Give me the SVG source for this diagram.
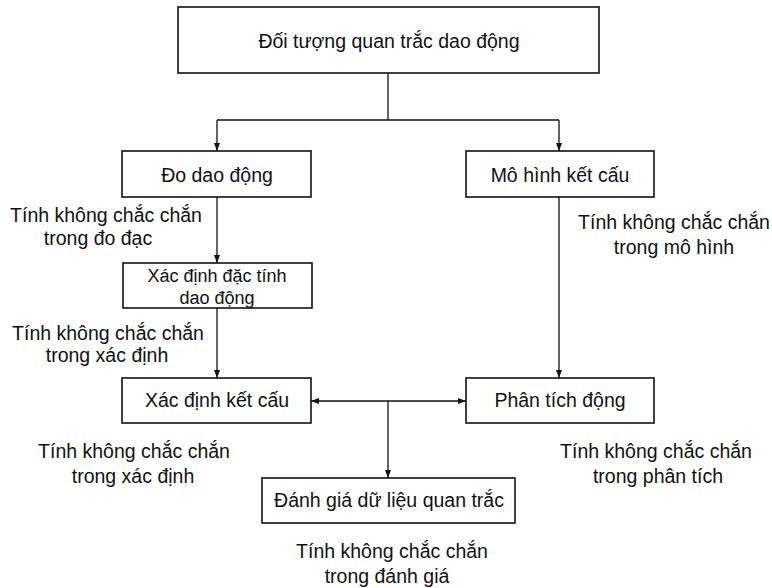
<svg xmlns="http://www.w3.org/2000/svg" width="772" height="588" viewBox="0 0 772 588">
<style>
.box{fill:#fff;stroke:#111;stroke-width:1.6}
.t{font-family:"Liberation Sans",Arial,sans-serif;font-size:19.5px;fill:#111;text-anchor:middle}
.s{font-size:18px}
.c{fill:none;stroke:#111;stroke-width:1.3}
</style>
<defs>
<marker id="ah" viewBox="0 0 8 6" refX="8" refY="3" markerWidth="8" markerHeight="6" markerUnits="userSpaceOnUse" orient="auto">
<path d="M0,0 L8,3 L0,6 Z" fill="#111"/>
</marker>
</defs>
<rect width="772" height="588" fill="#fff"/>
<g id="connectors">
<path class="c" d="M388,73 V120"/>
<path class="c" d="M217,120 H559"/>
<path class="c" d="M217,120 V151" marker-end="url(#ah)"/>
<path class="c" d="M559,120 V151" marker-end="url(#ah)"/>
<path class="c" d="M217,197 V263" marker-end="url(#ah)"/>
<path class="c" d="M217,308 V378" marker-end="url(#ah)"/>
<path class="c" d="M559,197 V378" marker-end="url(#ah)"/>
<path class="c" d="M388,401 H311" marker-end="url(#ah)"/>
<path class="c" d="M388,401 H466" marker-end="url(#ah)"/>
<path class="c" d="M388,401 V478" marker-end="url(#ah)"/>
</g>
<g id="n-doi-tuong">
<rect class="box" x="178" y="7" width="421" height="66"/>
<text class="t" x="389" y="48">Đối tượng quan trắc dao động</text>
</g>
<g id="n-do-dao-dong">
<rect class="box" x="122" y="151" width="189" height="46"/>
<text class="t" x="217" y="182">Đo dao động</text>
</g>
<g id="n-mo-hinh">
<rect class="box" x="466" y="151" width="188" height="46"/>
<text class="t" x="560" y="182">Mô hình kết cấu</text>
</g>
<g id="n-xac-dinh-dac-tinh">
<rect class="box" x="123" y="263" width="189" height="45"/>
<text class="t s" x="217" y="282">Xác định đặc tính</text>
<text class="t s" x="217" y="304">dao động</text>
</g>
<g id="n-xac-dinh-ket-cau">
<rect class="box" x="122" y="378" width="189" height="45"/>
<text class="t" x="217" y="407">Xác định kết cấu</text>
</g>
<g id="n-phan-tich">
<rect class="box" x="466" y="378" width="188" height="45"/>
<text class="t" x="560" y="407">Phân tích động</text>
</g>
<g id="n-danh-gia">
<rect class="box" x="262" y="478" width="253" height="45"/>
<text class="t" x="389" y="507">Đánh giá dữ liệu quan trắc</text>
</g>
<g id="labels">
<text class="t" x="106" y="222">Tính không chắc chắn</text>
<text class="t" x="98" y="245">trong đo đạc</text>
<text class="t" x="674" y="229">Tính không chắc chắn</text>
<text class="t" x="674" y="254">trong mô hình</text>
<text class="t" x="108" y="340">Tính không chắc chắn</text>
<text class="t" x="107" y="362">trong xác định</text>
<text class="t" x="134" y="458">Tính không chắc chắn</text>
<text class="t" x="133" y="483">trong xác định</text>
<text class="t" x="656" y="458">Tính không chắc chắn</text>
<text class="t" x="658" y="483">trong phân tích</text>
<text class="t" x="392" y="558">Tính không chắc chắn</text>
<text class="t" x="387" y="583">trong đánh giá</text>
</g>
</svg>
